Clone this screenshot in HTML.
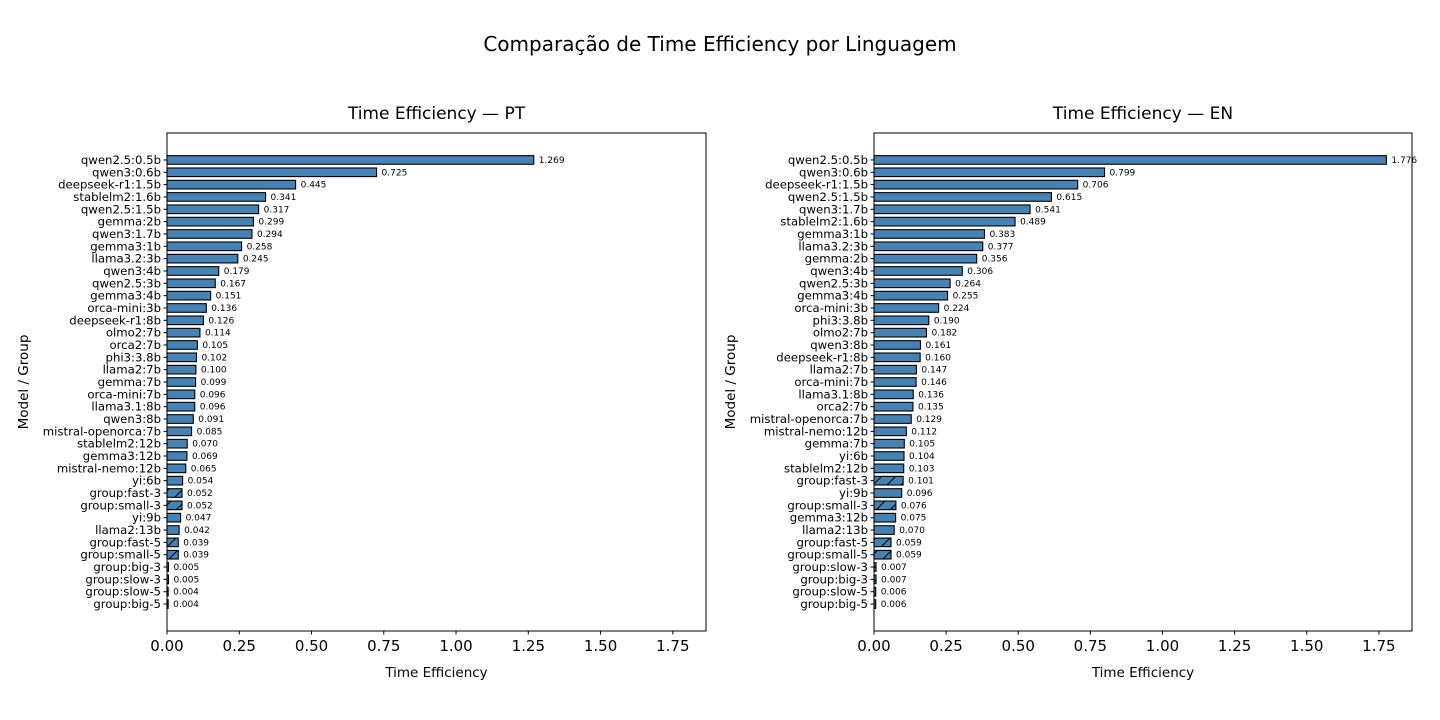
<!DOCTYPE html>
<html><head><meta charset="utf-8"><style>
body{margin:0;background:#fff;}
svg{display:block;font-family:"DejaVu Sans","Liberation Sans",sans-serif;}
</style></head><body>
<svg id="c" width="1440" height="720" xmlns="http://www.w3.org/2000/svg">
<defs><pattern id="hatch" patternUnits="userSpaceOnUse" width="14" height="14"><rect width="14" height="14" fill="steelblue"/><path d="M-1,15 L15,-1 M-8,8 L8,-8 M6,22 L22,6" stroke="#000" stroke-width="1"/></pattern></defs>
<text x="720" y="51" text-anchor="middle" font-size="20">Comparação de Time Efficiency por Linguagem</text>
</svg>
<script>
const ptCategories=["qwen2.5:0.5b","qwen3:0.6b","deepseek-r1:1.5b","stablelm2:1.6b","qwen2.5:1.5b","gemma:2b","qwen3:1.7b","gemma3:1b","llama3.2:3b","qwen3:4b","qwen2.5:3b","gemma3:4b","orca-mini:3b","deepseek-r1:8b","olmo2:7b","orca2:7b","phi3:3.8b","llama2:7b","gemma:7b","orca-mini:7b","llama3.1:8b","qwen3:8b","mistral-openorca:7b","stablelm2:12b","gemma3:12b","mistral-nemo:12b","yi:6b","group:fast-3","group:small-3","yi:9b","llama2:13b","group:fast-5","group:small-5","group:big-3","group:slow-3","group:slow-5","group:big-5"];
const ptValues=[1.269,0.725,0.445,0.341,0.317,0.299,0.294,0.258,0.245,0.179,0.167,0.151,0.136,0.126,0.114,0.105,0.102,0.100,0.099,0.096,0.096,0.091,0.085,0.070,0.069,0.065,0.054,0.052,0.052,0.047,0.042,0.039,0.039,0.005,0.005,0.004,0.004];
const enCategories=["qwen2.5:0.5b","qwen3:0.6b","deepseek-r1:1.5b","qwen2.5:1.5b","qwen3:1.7b","stablelm2:1.6b","gemma3:1b","llama3.2:3b","gemma:2b","qwen3:4b","qwen2.5:3b","gemma3:4b","orca-mini:3b","phi3:3.8b","olmo2:7b","qwen3:8b","deepseek-r1:8b","llama2:7b","orca-mini:7b","llama3.1:8b","orca2:7b","mistral-openorca:7b","mistral-nemo:12b","gemma:7b","yi:6b","stablelm2:12b","group:fast-3","yi:9b","group:small-3","gemma3:12b","llama2:13b","group:fast-5","group:small-5","group:slow-3","group:big-3","group:slow-5","group:big-5"];
const enValues=[1.776,0.799,0.706,0.615,0.541,0.489,0.383,0.377,0.356,0.306,0.264,0.255,0.224,0.190,0.182,0.161,0.160,0.147,0.146,0.136,0.135,0.129,0.112,0.105,0.104,0.103,0.101,0.096,0.076,0.075,0.070,0.059,0.059,0.007,0.007,0.006,0.006];
const xTicks=[0,0.25,0.5,0.75,1.0,1.25,1.5,1.75];
const NS="http://www.w3.org/2000/svg";
const svg=document.getElementById('c');
const XMAX=1.8648;
function el(t,a,p){const e=document.createElementNS(NS,t);for(const k in a)e.setAttribute(k,a[k]);(p||svg).appendChild(e);return e;}
function panel(L,R,title,cats,vals,key){
  const T=133,B=631;
  const g=el('g',{});
  
  
  const x=v=>L+v/XMAX*(R-L);
  const n=cats.length, lo=-0.35-1.835, hi=n-1+0.35+1.835;
  const y=i=>T+(i-lo)/(hi-lo)*(B-T);
  const rowH=(B-T)/(hi-lo), bh=0.7*rowH;
  const t=el('text',{x:(L+R)/2,y:119,'text-anchor':'middle','font-size':17},g);t.textContent=title;
  
  
  cats.forEach((c,i)=>{
    const v=vals[i];
    const r=el('rect',{x:x(0),y:y(i)-bh/2,width:Math.max(x(v)-x(0),0.5),height:bh,fill:c.startsWith('group')?'url(#hatch)':'steelblue',stroke:'#000','stroke-width':1.1},g);
    
    
    el('line',{x1:L-3.5,x2:L,y1:y(i),y2:y(i),stroke:'#000'},g);
    const lb=el('text',{x:L-6,y:y(i)+4,'text-anchor':'end','font-size':11.7},g);lb.textContent=c;
    
    
    const vl=el('text',{x:x(v)+5,y:y(i)+3,'font-size':9},g);vl.textContent=v.toFixed(3);
    
    
  });
  el('rect',{x:L,y:T,width:R-L,height:B-T,fill:'none',stroke:'#000','stroke-width':1},g);
  xTicks.forEach(v=>{
    el('line',{x1:x(v),x2:x(v),y1:B,y2:B+3.5,stroke:'#000'},g);
    const tl=el('text',{x:x(v),y:B+20,'text-anchor':'middle','font-size':15},g);tl.textContent=v.toFixed(2);
    
    
  });
  const xt=el('text',{x:(L+R)/2,y:677,'text-anchor':'middle','font-size':13.5},g);xt.textContent='Time Efficiency';
  
  
  const yt=el('text',{x:0,y:0,'text-anchor':'middle','font-size':13.5,transform:`translate(${L-139},382) rotate(-90)`},g);yt.textContent='Model / Group';
  
  
}
panel(167,706,'Time Efficiency — PT',ptCategories,ptValues,'pt');
panel(874,1412,'Time Efficiency — EN',enCategories,enValues,'en');
</script>
</body></html>
